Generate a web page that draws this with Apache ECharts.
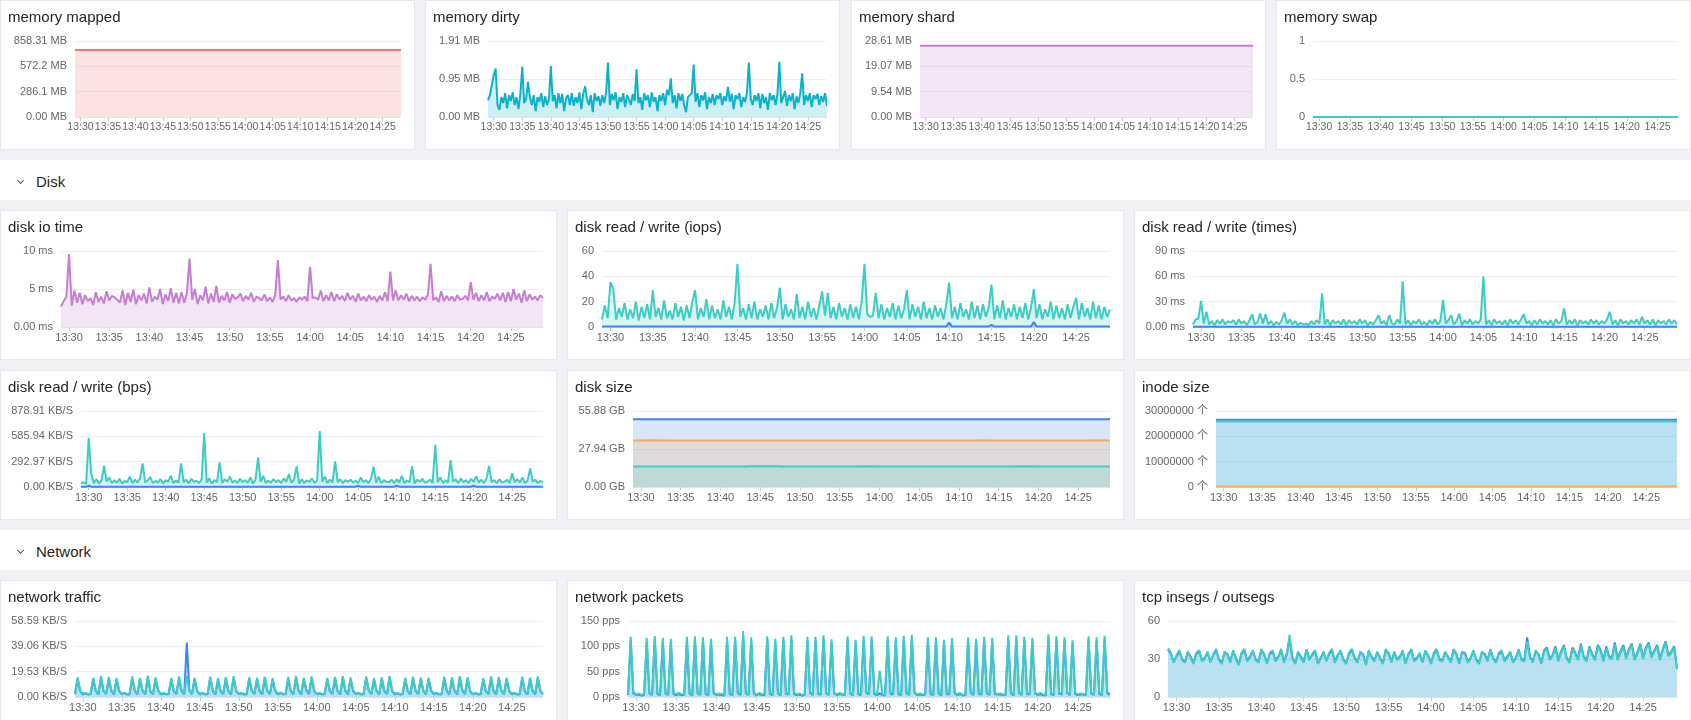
<!DOCTYPE html>
<html>
<head>
<meta charset="utf-8">
<script src="https://cdn.jsdelivr.net/npm/echarts@6/dist/echarts.min.js"></script>
<style>
  html, body { margin: 0; padding: 0; background: #f0f2f5; }
  body { width: 1691px; height: 720px; overflow: hidden; position: relative; font-family: "Liberation Sans", Arial, sans-serif; }
  .panel { position: absolute; height: 150px; background: #fff; border: 1px solid #e4e7ed; box-sizing: border-box; }
  .panel .title { position: absolute; left: 7px; top: 5px; font-size: 15px; line-height: 22px; color: #262626; z-index: 2; }
  .panel .chart { position: absolute; left: -1px; top: -1px; height: 150px; }
  .section { position: absolute; left: 0; width: 1691px; height: 40px; background: #fff; }
  .section span { position: absolute; left: 36px; top: 2px; line-height: 40px; font-size: 15px; color: #262626; }
  .section i { position: absolute; left: 18px; top: 18px; width: 4px; height: 4px; border-right: 1px solid #555; border-bottom: 1px solid #555; transform: rotate(45deg); }
</style>
</head>
<body>
<div class="section" style="top:160px"><i></i><span>Disk</span></div>
<div class="section" style="top:530px"><i></i><span>Network</span></div>
<script>
// 时间轴: 13:29:00 起, 每 20 秒一个点
function at(hms) {
  var p = hms.split(':').map(Number);
  return new Date(2024, 0, 1, p[0], p[1], p[2]).getTime();
}
var T0 = at('13:29:00');
var T1 = at('14:29:00');
var STEP = 20000;

// ---------- memory ----------
var mappedTicks = ['0.00 MB', '286.1 MB', '572.2 MB', '858.31 MB'];
var mappedMB = [['13:29:00', 755.5], ['13:53:40', 755.5], ['13:55:00', 757.5], ['13:56:20', 755.8],
  ['14:25:40', 756.0], ['14:27:00', 757.8], ['14:29:00', 757.6]];

var dirtyTicks = ['0.00 MB', '0.95 MB', '1.91 MB'];
var dirtyMB = [
  0.42,0.55,0.5,1.05,1.22,0.3,0.18,0.5,0.35,0.6,0.22,0.55,0.4,0.62,0.3,
  0.5,0.2,0.58,1.26,0.35,0.45,0.88,0.5,0.3,0.55,0.15,0.5,0.38,0.6,0.25,
  0.52,0.3,0.45,1.28,0.4,0.55,0.22,0.6,0.35,0.58,0.15,0.48,0.55,0.3,0.6,
  0.28,0.5,0.35,0.62,0.2,0.58,0.77,0.45,0.3,0.55,0.12,0.6,0.4,0.52,0.28,
  0.55,0.35,0.6,1.37,0.3,0.58,0.42,0.62,0.2,0.5,0.38,0.6,0.25,0.55,0.45,
  0.3,0.58,0.4,1.2,0.35,0.5,0.18,0.6,0.42,0.55,0.25,0.62,0.38,0.5,0.15,
  0.55,0.4,0.6,0.3,0.68,0.55,0.97,0.35,0.55,0.22,0.6,0.4,0.58,0.3,0.12,
  0.5,0.45,0.6,1.32,0.38,0.6,0.25,0.55,0.42,0.62,0.2,0.5,0.35,0.58,0.3,
  0.55,0.45,0.6,0.3,0.52,0.4,0.76,0.38,0.58,0.2,0.55,0.45,0.6,0.25,0.5,
  0.38,0.62,1.37,0.45,0.3,0.55,0.4,0.6,0.22,0.58,0.35,0.5,0.18,0.6,0.42,
  0.55,0.3,0.58,1.39,0.35,0.5,0.65,0.28,0.55,0.4,0.6,0.2,0.52,0.35,0.6,
  1.1,0.3,0.55,0.4,0.6,0.25,0.55,0.45,0.58,0.3,0.52,0.38,0.6,0.28,0.5,
  0.42
];

var shardTicks = ['0.00 MB', '9.54 MB', '19.07 MB', '28.61 MB'];
var shardMB = [['13:29:00', 26.8], ['14:29:00', 26.8]];

var swapTicks = ['0', '0.5', '1'];
var swapVal = [['13:29:00', 0], ['14:29:00', 0]];

// ---------- disk ----------
var ioTicks = ['0.00 ms', '5 ms', '10 ms'];
var ioTimeMs = [
  2.7,3.4,4.0,9.6,2.8,4.8,3.2,4.5,3.0,4.2,3.4,3.8,2.9,4.6,3.3,
  4.0,3.1,4.7,3.5,4.1,3.9,3.6,3.2,4.8,2.9,4.5,3.3,4.9,3.0,4.2,
  3.5,4.4,3.1,5.2,3.3,4.0,3.6,5.0,3.0,4.3,3.4,5.1,3.2,4.5,3.1,
  4.6,3.2,4.4,9.0,3.6,5.0,3.0,4.2,3.5,5.3,3.1,4.4,3.3,5.4,3.2,
  4.1,3.5,4.6,3.2,4.3,3.7,3.9,4.4,3.4,4.1,3.6,4.5,3.3,4.0,3.8,
  3.5,4.3,3.4,3.9,3.3,4.2,8.8,3.6,4.0,3.4,4.2,3.5,3.8,3.3,3.9,
  3.6,4.0,3.4,7.9,3.8,3.9,3.6,4.8,3.4,4.2,3.5,4.6,3.4,4.3,3.6,
  4.1,3.4,4.5,3.6,4.1,3.3,4.4,3.5,4.0,3.4,4.2,3.6,4.0,3.3,4.1,
  3.5,4.6,3.4,7.3,3.5,4.8,3.5,4.2,3.6,4.4,3.4,4.1,3.5,4.0,3.4,
  3.9,3.6,4.2,8.3,3.5,3.9,3.3,4.7,3.4,4.1,3.5,4.0,3.4,4.2,3.6,
  3.7,4.1,3.5,5.9,3.6,4.5,3.4,4.2,3.5,4.6,3.4,4.0,3.7,4.4,3.5,
  4.5,3.3,4.6,3.4,5.0,3.6,4.4,3.2,4.8,3.4,4.3,3.6,4.0,3.5,4.2,
  3.8
];

var iopsTicks = ['0', '20', '40', '60'];
var iopsRead = [
  6,17,7,35.5,30,6,15,8,19,6,14,7,20,5,16,
  7,18,6,29,8,15,6,21,7,13,6,19,8,16,5,
  17,7,20,29,6,15,8,22,6,17,7,14,6,21,8,
  16,6,19,49.6,8,15,6,18,7,20,6,14,8,17,6,
  19,7,15,31,6,18,8,14,6,26,7,16,6,20,8,
  15,6,17,28,9,27,7,16,6,19,8,15,6,18,7,
  16,6,20,49.6,10,8,9,27,7,18,6,15,8,19,6,
  17,7,14,29,6,18,8,16,6,20,7,15,6,17,8,
  15,6,18,35,7,16,6,19,8,14,6,20,7,17,6,
  18,8,15,33.5,6,17,7,21,6,15,8,18,6,16,7,
  19,6,15,30,7,18,6,14,8,20,6,17,7,15,6,
  18,7,16,23,6,19,8,15,6,20,7,17,6,16,8,
  14
];
var iopsWrite = [['13:29:00', 0.3], ['14:09:40', 0.3], ['14:10:00', 3.5], ['14:10:20', 0.3],
  ['14:14:40', 0.3], ['14:15:00', 1.6], ['14:15:20', 0.3], ['14:19:40', 0.3], ['14:20:00', 4],
  ['14:20:20', 0.3], ['14:29:00', 0.3]];

var timesTicks = ['0.00 ms', '30 ms', '60 ms', '90 ms'];
var timesRead = [
  3,9,10,31,4,18,3,7,2,8,4,9,3,7,5,
  8,3,9,4,7,2,8,15,3,6,16,4,15,3,7,
  2,6,3,8,17,4,9,3,7,2,5,3,4,2,7,
  3,8,4,40,3,9,2,8,4,7,3,9,2,8,4,
  7,3,9,4,8,2,6,3,8,14,4,7,2,14,4,
  3,9,4,54,3,8,2,7,4,9,3,6,2,8,4,
  9,3,7,32,4,8,14,3,7,16,2,8,4,9,3,
  7,4,9,60,3,8,2,9,4,7,3,8,2,9,4,
  8,3,9,15,4,7,2,8,3,9,4,7,3,8,2,
  9,4,7,22,3,8,4,9,2,8,4,7,3,9,4,
  8,3,7,4,9,18,3,8,2,9,4,7,3,8,4,
  9,3,12,4,8,3,9,2,8,4,7,3,9,4,8,
  3
];
var timesWrite = [['13:29:00', 0.3], ['14:29:00', 0.3]];

var bpsTicks = ['0.00 KB/S', '292.97 KB/S', '585.94 KB/S', '878.91 KB/S'];
var bpsRead = [
  40,55,35,570,148,45,90,40,75,246,60,110,45,80,50,
  95,40,70,55,120,45,85,50,100,273,55,75,115,45,70,
  55,90,40,80,60,130,45,75,50,273,55,85,40,95,60,
  70,45,85,625,50,100,40,80,55,285,45,90,60,120,50,
  75,45,95,55,80,50,110,40,85,344,60,130,45,75,50,
  90,55,80,45,100,60,150,50,85,242,40,90,45,75,60,
  100,45,80,648,60,120,45,85,50,297,55,90,45,80,60,
  85,50,75,45,110,55,80,45,95,234,50,120,45,80,60,
  55,85,45,90,50,130,45,75,55,242,40,85,60,95,50,
  60,85,45,488,55,110,45,80,50,312,60,90,45,100,55,
  80,45,95,60,125,50,85,45,100,242,55,80,45,90,50,
  60,85,45,160,55,90,50,110,45,75,215,60,85,45,70,
  55
];
var bpsWrite = [['13:29:00', 4], ['13:29:40', 4], ['13:30:00', 14], ['13:30:20', 4],
  ['14:04:40', 4], ['14:05:00', 15], ['14:05:20', 4], ['14:09:40', 4], ['14:10:00', 16],
  ['14:10:20', 4], ['14:19:40', 4], ['14:20:00', 14], ['14:20:20', 4], ['14:29:00', 4]];

var sizeTicks = ['0.00 GB', '27.94 GB', '55.88 GB'];
var diskTotal = [['13:29:00', 49.9], ['14:29:00', 49.9]];
var diskUsed = [['13:29:00', 34.2], ['13:31:00', 34.4], ['13:34:00', 34.2], ['14:12:00', 34.2],
  ['14:13:00', 34.4], ['14:14:00', 34.2], ['14:26:00', 34.2], ['14:27:00', 34.4], ['14:29:00', 34.2]];
var diskFree = [['13:29:00', 15.0], ['13:43:00', 15.0], ['13:44:00', 15.2], ['13:47:00', 15.2],
  ['13:48:00', 15.0], ['13:57:00', 15.0], ['13:58:00', 15.2], ['14:00:00', 15.0], ['14:17:00', 15.0],
  ['14:18:00', 15.2], ['14:20:00', 15.0], ['14:29:00', 15.0]];

var inodeTicks = ['0 个', '10000000 个', '20000000 个', '30000000 个'];
var inodeTotal = [['13:29:00', 26500000], ['14:29:00', 26500000]];
var inodeFree = [['13:29:00', 25900000], ['14:29:00', 25900000]];
var inodeUsed = [['13:29:00', 150000], ['14:29:00', 150000]];

// ---------- network ----------
var trafficTicks = ['0.00 KB/S', '19.53 KB/S', '39.06 KB/S', '58.59 KB/S'];
var trafficIn = [
  2.2,13.9,4.6,2.1,2.9,2.0,2.3,13.5,4.8,2.0,14.7,4.4,2.2,14.2,4.5,
  2.1,13.3,4.5,2.2,3.0,2.0,2.2,14.5,4.7,2.1,13.6,4.6,2.0,15.0,4.3,
  2.3,13.8,4.8,2.0,2.8,2.1,2.2,13.4,4.5,2.3,14.4,4.6,2.0,42.0,4.9,
  2.2,13.6,4.6,2.1,3.0,2.0,2.3,14.2,4.7,2.0,13.2,4.4,2.2,14.0,4.6,
  2.1,14.6,4.5,2.3,2.9,2.0,2.1,13.9,4.8,2.2,13.5,4.6,2.0,14.3,4.4,
  2.2,13.3,4.7,2.1,3.1,2.0,2.3,14.0,4.5,2.0,14.9,4.6,2.1,13.6,4.8,
  2.3,14.4,4.6,2.0,2.8,2.1,2.2,13.4,4.7,2.3,14.1,4.4,2.0,14.6,4.6,
  2.1,13.8,4.5,2.2,3.0,2.0,2.1,14.5,4.8,2.2,13.3,4.6,2.0,13.9,4.4,
  2.2,14.8,4.6,2.1,2.9,2.0,2.3,13.5,4.5,2.0,14.2,4.7,2.2,13.7,4.6,
  2.0,13.6,4.7,2.3,3.1,2.1,2.2,14.3,4.6,2.1,13.8,4.5,2.0,14.7,4.8,
  2.2,14.0,4.4,2.0,2.9,2.0,2.1,13.2,4.6,2.3,14.5,4.6,2.1,14.1,4.5,
  2.3,13.5,4.7,2.1,3.0,2.0,2.2,14.2,4.5,2.0,13.7,4.6,2.1,14.4,4.6,
  2.2
];
var trafficOut = [
  2.5,15.2,5.1,2.4,3.2,2.2,2.6,14.8,5.3,2.3,16.1,4.8,2.5,15.5,5.0,
  2.4,14.6,4.9,2.5,3.4,2.3,2.5,15.9,5.2,2.4,14.9,5.0,2.2,16.4,4.7,
  2.6,15.1,5.3,2.3,3.1,2.4,2.5,14.7,4.9,2.6,15.8,5.1,2.3,16.2,5.4,
  2.5,14.9,5.0,2.4,3.3,2.2,2.6,15.6,5.2,2.3,14.5,4.8,2.5,15.3,5.1,
  2.4,16.0,4.9,2.6,3.2,2.3,2.4,15.2,5.3,2.5,14.8,5.0,2.3,15.7,4.8,
  2.5,14.6,5.2,2.4,3.5,2.2,2.6,15.4,4.9,2.3,16.3,5.1,2.4,14.9,5.3,
  2.6,15.8,5.0,2.3,3.1,2.4,2.5,14.7,5.2,2.6,15.5,4.8,2.3,16.0,5.1,
  2.4,15.1,4.9,2.5,3.3,2.3,2.4,15.9,5.3,2.5,14.6,5.0,2.2,15.2,4.8,
  2.5,16.2,5.1,2.4,3.2,2.2,2.6,14.8,4.9,2.3,15.6,5.2,2.5,15.0,5.0,
  2.3,14.9,5.2,2.6,3.4,2.4,2.5,15.7,5.0,2.4,15.1,4.9,2.3,16.1,5.3,
  2.5,15.3,4.8,2.3,3.2,2.3,2.4,14.5,5.1,2.6,15.9,5.0,2.4,15.4,4.9,
  2.6,14.8,5.2,2.4,3.3,2.2,2.5,15.6,4.9,2.3,15.0,5.1,2.4,15.8,5.0,
  2.5
];

var packetsTicks = ['0 pps', '50 pps', '100 pps', '150 pps'];
var packetsIn = [
  4,113,7,4,5,3,4,110,7,4,114,6,4,111,7,
  4,108,6,4,6,4,4,113,7,3,114,7,4,112,6,
  4,109,7,4,5,4,3,112,6,4,113,8,4,122,7,
  4,111,7,3,6,4,4,114,6,4,108,7,3,113,6,
  5,115,6,4,5,3,4,112,8,4,113,6,5,116,7,
  4,107,7,4,6,5,4,114,7,3,106,6,4,115,8,
  5,113,6,4,7,4,3,113,7,5,112,6,4,115,7,
  4,117,8,4,5,4,5,111,6,4,112,7,3,107,6,
  5,110,7,4,6,3,4,112,8,4,109,6,5,113,7,
  4,111,6,5,5,4,4,115,7,3,116,8,4,113,6,
  5,111,7,4,6,4,3,118,6,4,113,7,5,112,8,
  4,106,6,4,5,5,4,114,7,4,112,6,4,115,7,
  5
];
var packetsOut = [
  6,119,10,5,7,4,6,117,9,5,120,8,5,117,9,
  5,115,8,6,8,5,5,119,10,4,120,9,5,118,8,
  5,115,9,5,7,6,4,119,8,5,119,10,6,130,9,
  5,118,9,4,8,5,6,120,8,5,115,9,4,119,8,
  6,122,8,5,7,4,5,119,10,5,119,8,6,122,9,
  5,114,9,5,8,6,5,120,9,4,113,8,5,121,10,
  6,120,8,5,52,5,4,120,9,6,118,8,5,121,9,
  5,123,10,5,7,5,6,118,8,5,118,9,4,113,8,
  6,117,9,5,8,4,5,118,10,5,115,8,6,119,9,
  5,117,8,6,7,5,5,122,9,4,122,10,5,119,8,
  6,117,9,5,8,5,4,124,8,5,120,9,6,118,10,
  5,112,8,5,7,6,5,120,9,5,118,8,5,121,9,
  6
];

var tcpTicks = ['0', '30', '60'];
var tcpIn = [
  37.5,34,28,32,36,30,28,35,32,27,34,36,29,31,35,
  28,33,37,30,27,35,34,28,36,31,26,34,37,29,32,
  36,30,28,37,34,27,34,36,29,32,37,28,34,46,31,
  27,35,32,28,37,30,33,36,27,31,35,29,34,37,28,
  33,36,30,27,34,37,31,28,35,34,26,36,32,29,35,
  31,27,37,35,28,35,30,32,36,27,34,37,29,31,34,
  28,36,33,27,34,37,30,29,35,32,28,37,34,27,35,
  35,28,31,36,30,27,35,34,29,37,31,28,34,36,29,
  32,35,28,31,37,30,29,47,32,28,36,34,27,37,39,
  30,33,40,29,36,41,31,28,39,35,30,42,32,29,40,
  34,30,41,37,29,40,32,31,43,30,36,41,31,38,42,
  30,35,42,31,39,43,32,37,41,30,38,44,33,36,40,
  23
];
var tcpOut = [
  38.5,35,27,33,37,29,27,36,31,26,35,37,28,30,36,
  27,34,38,29,26,36,33,27,37,30,25,35,38,28,31,
  37,29,27,38,33,26,35,37,28,31,38,27,33,49,30,
  26,36,31,27,38,29,34,37,26,30,36,28,35,38,27,
  32,37,29,26,35,38,30,27,36,33,25,37,31,28,36,
  30,26,38,34,27,36,29,31,37,26,33,38,28,30,35,
  27,37,32,26,35,38,29,28,36,31,27,38,33,26,36,
  34,27,30,37,29,26,36,33,28,38,30,27,35,37,28,
  31,36,27,30,38,29,28,44,31,27,37,33,26,36,38,
  29,32,39,28,35,40,30,27,38,34,29,41,31,28,39,
  33,29,40,36,28,39,31,30,42,29,35,40,30,37,41,
  29,34,41,30,38,42,31,36,40,29,37,43,32,35,39,
  22
];

// 颜色
var RED = '#f27474', CYAN = '#0bb2cc', PURPLE = '#c77dd3';
var BLUE = '#3d84f5', TEAL = '#3ecdc2', ORANGE = '#f7b14a';
var FONT = '"Liberation Sans", Arial, "Noto Sans CJK SC", sans-serif';

// 面板配置 (顶部一行的时间范围略短)
var panels = [
  { title: 'memory mapped', x: 0, y: 0, w: 415, left: 75, right: 15, end: '14:28:10', max: 858.31, ticks: mappedTicks,
    series: [{ data: mappedMB, color: RED }] },
  { title: 'memory dirty', x: 425, y: 0, w: 415, left: 63, right: 14, end: '14:28:10', max: 1.91, ticks: dirtyTicks,
    series: [{ data: dirtyMB, color: CYAN }] },
  { title: 'memory shard', x: 851, y: 0, w: 415, left: 69, right: 14, end: '14:28:10', max: 28.61, ticks: shardTicks,
    series: [{ data: shardMB, color: PURPLE }] },
  { title: 'memory swap', x: 1276, y: 0, w: 415, left: 37, right: 14, end: '14:28:10', max: 1, ticks: swapTicks,
    series: [{ data: swapVal, color: TEAL }] },

  { title: 'disk io time', x: 0, y: 210, w: 557, left: 61, max: 10, ticks: ioTicks,
    series: [{ data: ioTimeMs, color: PURPLE }] },
  { title: 'disk read / write (iops)', x: 567, y: 210, w: 557, left: 35, max: 60, ticks: iopsTicks,
    series: [{ data: iopsRead, color: TEAL }, { data: iopsWrite, color: BLUE }] },
  { title: 'disk read / write (times)', x: 1134, y: 210, w: 557, left: 59, max: 90, ticks: timesTicks,
    series: [{ data: timesRead, color: TEAL }, { data: timesWrite, color: BLUE }] },

  { title: 'disk read / write (bps)', x: 0, y: 370, w: 557, left: 81, max: 878.91, ticks: bpsTicks,
    series: [{ data: bpsRead, color: TEAL }, { data: bpsWrite, color: BLUE }] },
  { title: 'disk size', x: 567, y: 370, w: 557, left: 66, max: 55.88, ticks: sizeTicks,
    series: [{ data: diskTotal, color: BLUE }, { data: diskUsed, color: ORANGE }, { data: diskFree, color: TEAL }] },
  { title: 'inode size', x: 1134, y: 370, w: 557, left: 82, max: 30000000, ticks: inodeTicks,
    series: [{ data: inodeTotal, color: BLUE }, { data: inodeFree, color: TEAL }, { data: inodeUsed, color: ORANGE }] },

  { title: 'network traffic', x: 0, y: 580, w: 557, left: 75, max: 58.59, ticks: trafficTicks,
    series: [{ data: trafficIn, color: BLUE }, { data: trafficOut, color: TEAL }] },
  { title: 'network packets', x: 567, y: 580, w: 557, left: 61, max: 150, ticks: packetsTicks,
    series: [{ data: packetsIn, color: BLUE }, { data: packetsOut, color: TEAL }] },
  { title: 'tcp insegs / outsegs', x: 1134, y: 580, w: 557, left: 34, max: 60, ticks: tcpTicks,
    series: [{ data: tcpIn, color: BLUE }, { data: tcpOut, color: TEAL }] }
];

function pad(n) { return n < 10 ? '0' + n : '' + n; }
function hhmm(v) { var d = new Date(v); return pad(d.getHours()) + ':' + pad(d.getMinutes()); }

// 数组 -> [时间, 值]
function toPoints(d) {
  if (typeof d[0] === 'number') {
    return d.map(function (v, i) { return [T0 + i * STEP, v]; });
  }
  return d.map(function (p) { return [at(p[0]), p[1]]; });
}

function buildOption(c) {
  var step = c.max / (c.ticks.length - 1);
  var small = c.w < 500;
  return {
    animation: false,
    grid: { left: c.left, right: c.right || 14, top: 41, bottom: 33 },
    xAxis: {
      type: 'time',
      min: T0,
      max: c.end ? at(c.end) : T1,
      splitNumber: 11,
      minInterval: 330000,
      maxInterval: 330000,
      axisLine: { lineStyle: { color: '#e3e3e3' } },
      axisTick: { show: true, length: 4, lineStyle: { color: '#cfcfcf' } },
      splitLine: { show: false },
      axisLabel: { formatter: hhmm, color: '#666', fontSize: small ? 10.5 : 11, margin: 5, fontFamily: FONT, hideOverlap: false }
    },
    yAxis: {
      type: 'value',
      min: 0,
      max: c.max,
      interval: step,
      axisLine: { show: false },
      axisTick: { show: false },
      splitLine: { lineStyle: { color: '#eeeeee' } },
      axisLabel: {
        color: '#666', fontSize: 11, margin: 8, fontFamily: FONT,
        formatter: function (v) { return c.ticks[Math.round(v / step)] || ''; }
      }
    },
    series: c.series.map(function (s) {
      return {
        type: 'line',
        data: toPoints(s.data),
        color: s.color,
        symbol: 'none',
        showSymbol: false,
        lineStyle: { width: 2 },
        areaStyle: { opacity: 0.2 }
      };
    })
  };
}

panels.forEach(function (c) {
  var panel = document.createElement('div');
  panel.className = 'panel';
  panel.style.left = c.x + 'px';
  panel.style.top = c.y + 'px';
  panel.style.width = c.w + 'px';

  var title = document.createElement('div');
  title.className = 'title';
  title.textContent = c.title;
  panel.appendChild(title);

  var box = document.createElement('div');
  box.className = 'chart';
  box.style.width = c.w + 'px';
  panel.appendChild(box);
  document.body.appendChild(panel);

  var chart = echarts.init(box);
  chart.setOption(buildOption(c));
});
</script>
</body>
</html>
